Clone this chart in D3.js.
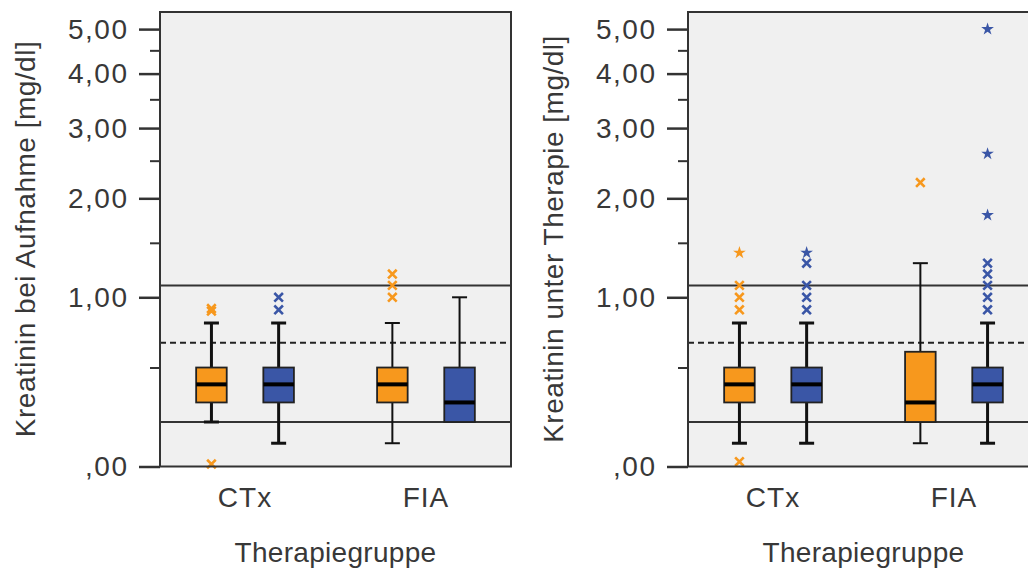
<!DOCTYPE html>
<html>
<head>
<meta charset="utf-8">
<script src="https://cdn.jsdelivr.net/npm/d3@7"></script>
<style>
  html, body { margin: 0; padding: 0; background: #ffffff; }
  svg { display: block; }
  text { font-family: "Liberation Sans", Arial, sans-serif; fill: #383838; }
</style>
</head>
<body>
<svg id="chart" width="1028" height="571"></svg>
<script>
// ---------- data ----------
const panelTitles = ["Kreatinin bei Aufnahme [mg/dl]", "Kreatinin unter Therapie [mg/dl]"];
const categories = ["CTx", "FIA"];
const series = ["Gruppe A", "Gruppe B"];
const xAxisTitle = "Therapiegruppe";
const yTicks = [0, 1, 2, 3, 4, 5];
const yMinorTicks = [0.5, 1.5, 2.5, 3.5, 4.5];
const refSolid = [1.1, 0.2];
const refDashed = [0.66];

// box stats: [lower whisker, Q1, median, Q3, upper whisker]
// panel 1: Aufnahme
const p1_CTx_A = [0.2, 0.3, 0.4, 0.5, 0.8];
const p1_CTx_B = [0.1, 0.3, 0.4, 0.5, 0.8];
const p1_FIA_A = [0.1, 0.3, 0.4, 0.5, 0.8];
const p1_FIA_B = [0.2, 0.2, 0.3, 0.5, 1.0];
const p1_CTx_A_out = [0.89, 0.91, 0.01];
const p1_CTx_B_out = [0.9, 1.0];
const p1_FIA_A_out = [1.0, 1.1, 1.2];
const p1_FIA_B_out = [];
const p1_CTx_A_ext = [];
const p1_CTx_B_ext = [];
const p1_FIA_A_ext = [];
const p1_FIA_B_ext = [];
// panel 2: unter Therapie
const p2_CTx_A = [0.1, 0.3, 0.4, 0.5, 0.8];
const p2_CTx_B = [0.1, 0.3, 0.4, 0.5, 0.8];
const p2_FIA_A = [0.1, 0.2, 0.3, 0.6, 1.3];
const p2_FIA_B = [0.1, 0.3, 0.4, 0.5, 0.8];
const p2_CTx_A_out = [0.9, 1.0, 1.1, 0.02];
const p2_CTx_B_out = [0.9, 1.0, 1.1, 1.3];
const p2_FIA_A_out = [2.2];
const p2_FIA_B_out = [0.9, 1.0, 1.1, 1.2, 1.3];
const p2_CTx_A_ext = [1.4];
const p2_CTx_B_ext = [1.4];
const p2_FIA_A_ext = [];
const p2_FIA_B_ext = [1.8, 2.6, 5.0];

const panelData = [
  [
    {cat: "CTx", ser: "Gruppe A", stats: p1_CTx_A, out: p1_CTx_A_out, ext: p1_CTx_A_ext},
    {cat: "CTx", ser: "Gruppe B", stats: p1_CTx_B, out: p1_CTx_B_out, ext: p1_CTx_B_ext},
    {cat: "FIA", ser: "Gruppe A", stats: p1_FIA_A, out: p1_FIA_A_out, ext: p1_FIA_A_ext},
    {cat: "FIA", ser: "Gruppe B", stats: p1_FIA_B, out: p1_FIA_B_out, ext: p1_FIA_B_ext}
  ],
  [
    {cat: "CTx", ser: "Gruppe A", stats: p2_CTx_A, out: p2_CTx_A_out, ext: p2_CTx_A_ext},
    {cat: "CTx", ser: "Gruppe B", stats: p2_CTx_B, out: p2_CTx_B_out, ext: p2_CTx_B_ext},
    {cat: "FIA", ser: "Gruppe A", stats: p2_FIA_A, out: p2_FIA_A_out, ext: p2_FIA_A_ext},
    {cat: "FIA", ser: "Gruppe B", stats: p2_FIA_B, out: p2_FIA_B_out, ext: p2_FIA_B_ext}
  ]
];

// ---------- layout ----------
const colors = {"Gruppe A": "#F7981D", "Gruppe B": "#3A56A6"};
const frame = {x0: 160, x1: 511, y0: 12, y1: 466.5};
const panelOffset = [0, 528];
const fontSize = 28;

// log(1+x) scale
const yLog = d3.scaleLog().domain([1, 6]).range([frame.y1, 29.1]);
const y = v => yLog(v + 1);

const x = d3.scalePoint().domain(categories).range([frame.x0, frame.x1]).padding(0.47);
const xs = d3.scaleBand().domain(series).range([-67.2, 67.2]);
const boxW = xs.bandwidth() * 0.455;

const fmt = v => {
  let s = d3.format(".2f")(v).replace(".", ",");
  if (s.startsWith("0,")) s = s.slice(1);
  return s;
};

const svg = d3.select("#chart");

panelData.forEach((boxes, pi) => {
  const g = svg.append("g").attr("transform", `translate(${panelOffset[pi]},0)`);

  // plot background
  g.append("rect")
    .attr("x", frame.x0).attr("y", frame.y0)
    .attr("width", frame.x1 - frame.x0).attr("height", frame.y1 - frame.y0)
    .attr("fill", "#F0F0F0");

  // reference lines
  g.selectAll(".refs").data(refSolid).join("line")
    .attr("x1", frame.x0).attr("x2", frame.x1)
    .attr("y1", d => y(d)).attr("y2", d => y(d))
    .attr("stroke", "#333").attr("stroke-width", 2);
  g.selectAll(".refd").data(refDashed).join("line")
    .attr("x1", frame.x0).attr("x2", frame.x1)
    .attr("y1", d => y(d)).attr("y2", d => y(d))
    .attr("stroke", "#222").attr("stroke-width", 2)
    .attr("stroke-dasharray", "6,4");

  // y axis (major ticks)
  const yAxisG = g.append("g").attr("transform", `translate(${frame.x0},0)`);
  const axis = d3.axisLeft(yLog).tickValues(yTicks.map(v => v + 1))
    .tickFormat(v => fmt(v - 1)).tickSize(21).tickPadding(12);
  yAxisG.call(axis);
  yAxisG.select(".domain").remove();
  yAxisG.selectAll(".tick line").attr("stroke", "#333").attr("stroke-width", 2.5);
  yAxisG.selectAll(".tick text")
    .attr("font-size", fontSize).attr("font-family", "Liberation Sans, Arial, sans-serif")
    .attr("letter-spacing", 1.5).attr("dx", 1.5)
    .attr("fill", "#383838");

  // minor ticks
  const minorG = g.append("g").attr("transform", `translate(${frame.x0},0)`);
  minorG.call(d3.axisLeft(yLog).tickValues(yMinorTicks.map(v => v + 1)).tickSize(10).tickFormat(""));
  minorG.select(".domain").remove();
  minorG.selectAll(".tick line").attr("stroke", "#333").attr("stroke-width", 2);

  // boxes
  boxes.forEach(b => {
    const cx = x(b.cat) + xs(b.ser) + xs.bandwidth() / 2;
    const [lo, q1, med, q3, hi] = b.stats;
    const thin = b.cat === "FIA" && !(pi === 1 && b.ser === "Gruppe B");
    const ww = thin ? 2 : 3;
    const bg = g.append("g");
    // whiskers
    bg.append("line").attr("x1", cx).attr("x2", cx).attr("y1", y(hi)).attr("y2", y(q3))
      .attr("stroke", "#111").attr("stroke-width", ww);
    bg.append("line").attr("x1", cx).attr("x2", cx).attr("y1", y(q1)).attr("y2", y(lo))
      .attr("stroke", "#111").attr("stroke-width", ww);
    [hi, lo].forEach(v => {
      if (v === q1 || v === q3) return;
      bg.append("line").attr("x1", cx - 7.5).attr("x2", cx + 7.5).attr("y1", y(v)).attr("y2", y(v))
        .attr("stroke", "#111").attr("stroke-width", ww);
    });
    // box
    bg.append("rect")
      .attr("x", cx - boxW / 2).attr("width", boxW)
      .attr("y", y(q3)).attr("height", y(q1) - y(q3))
      .attr("fill", colors[b.ser]).attr("stroke", "#222").attr("stroke-width", 1.8);
    // median
    bg.append("line").attr("x1", cx - boxW / 2).attr("x2", cx + boxW / 2)
      .attr("y1", y(med)).attr("y2", y(med))
      .attr("stroke", "#000").attr("stroke-width", 4);
    // outliers (x marks)
    bg.selectAll(".out").data(b.out).join("path")
      .attr("transform", d => `translate(${cx},${y(d)})`)
      .attr("d", "M-4.3,-4.3L4.3,4.3M-4.3,4.3L4.3,-4.3")
      .attr("stroke", colors[b.ser]).attr("stroke-width", 2.6).attr("fill", "none");
    // extremes (stars)
    bg.selectAll(".ext").data(b.ext).join("path")
      .attr("transform", d => `translate(${cx},${y(d)})`)
      .attr("d", d3.symbol(d3.symbolStar, 50))
      .attr("fill", colors[b.ser]);
  });

  // frame
  g.append("rect")
    .attr("x", frame.x0).attr("y", frame.y0)
    .attr("width", frame.x1 - frame.x0).attr("height", frame.y1 - frame.y0)
    .attr("fill", "none").attr("stroke", "#333").attr("stroke-width", 2);

  // x category labels
  g.selectAll(".xlab").data(categories).join("text")
    .attr("x", d => x(d)).attr("y", 506.5)
    .attr("text-anchor", "middle").attr("font-size", fontSize)
    .attr("letter-spacing", 1)
    .text(d => d);

  // x axis title
  g.append("text")
    .attr("x", (frame.x0 + frame.x1) / 2).attr("y", 562)
    .attr("text-anchor", "middle").attr("font-size", fontSize)
    .attr("letter-spacing", 0.3)
    .text(xAxisTitle);

  // y axis title
  g.append("text")
    .attr("transform", `translate(35,239) rotate(-90)`)
    .attr("text-anchor", "middle").attr("font-size", fontSize)
    .attr("letter-spacing", 0.5)
    .text(panelTitles[pi]);
});
</script>
</body>
</html>
